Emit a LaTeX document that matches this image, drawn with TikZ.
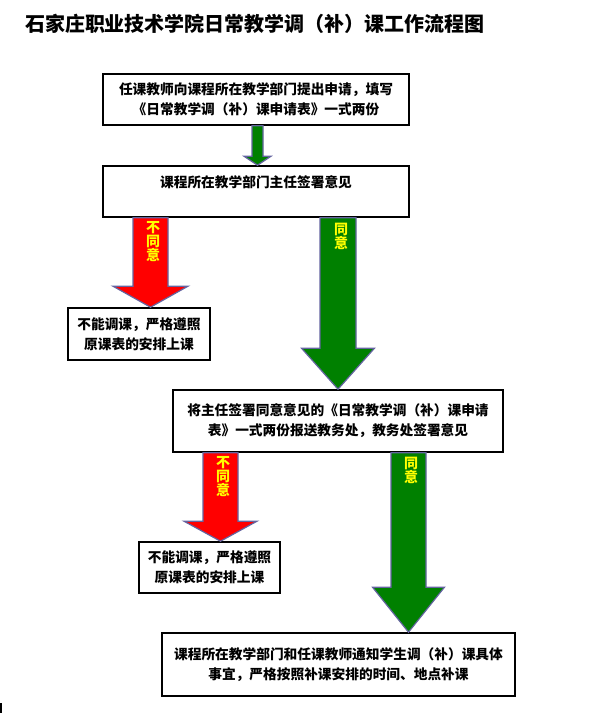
\documentclass[tikz,border=0pt]{standalone}
\usepackage{fontspec}
\newfontfamily\cjk{Noto Sans CJK SC}
\usetikzlibrary{calc}
\definecolor{arrowline}{RGB}{100,100,160}
\definecolor{agreegreen}{RGB}{0,128,0}
\definecolor{labelyellow}{RGB}{255,255,0}
% #1 style, #2 from node, #3 to node, #4 x centre, #5 shaft half width, #6 head half width, #7 head length
\newcommand\blockarrow[7]{%
  \draw[#1] let \p1=(#2.south), \p2=(#3.north) in
    (#4pt-#5pt,\y1) -- (#4pt+#5pt,\y1) -- (#4pt+#5pt,\y2+#7pt) -- (#4pt+#6pt,\y2+#7pt)
    -- (#4pt,\y2) -- (#4pt-#6pt,\y2+#7pt) -- (#4pt-#5pt,\y2+#7pt) -- cycle;
}
\begin{document}
\begin{tikzpicture}[x=1pt,y=-1pt,
  box/.style={draw=black, line width=1.6pt, fill=white, align=center, inner sep=0pt,
    font=\cjk\bfseries\fontsize{13.7}{20}\selectfont},
  yes/.style={fill=agreegreen, draw=arrowline, line width=1.2pt, line join=miter},
  no/.style={fill=red, draw=arrowline, line width=1.2pt, line join=miter},
  lab/.style={text=labelyellow, align=center, inner sep=0pt,
    font=\cjk\bfseries\fontsize{14}{14}\selectfont},
  titletext/.style={inner sep=0pt, font=\cjk\bfseries\fontsize{20}{22}\selectfont}]
\useasboundingbox (0,0) rectangle (590,713);
\fill[white] (0,0) rectangle (590,713);

\node[titletext] (title) at (255,24) {石家庄职业技术学院日常教学调（补）课工作流程图};

\node[box, minimum width=306pt, minimum height=51pt] (b1) at (256,99.5)
  {任课教师向课程所在教学部门提出申请，填写\\《日常教学调（补）课申请表》一式两份};
\node[box, minimum width=306pt, minimum height=51pt] (b2) at (256,191.5)
  {课程所在教学部门主任签署意见\\\mbox{}};
\node[box, minimum width=142pt, minimum height=52pt] (b3) at (139,334)
  {不能调课，严格遵照\\原课表的安排上课};
\node[box, minimum width=330pt, minimum height=62pt] (b4) at (338,421)
  {将主任签署同意意见的《日常教学调（补）课申请\\表》一式两份报送教务处，教务处签署意见};
\node[box, minimum width=141pt, minimum height=51pt] (b5) at (209.5,567.5)
  {不能调课，严格遵照\\原课表的安排上课};
\node[box, minimum width=353pt, minimum height=63pt] (b6) at (338.5,664.5)
  {课程所在教学部门和任课教师通知学生调（补）课具体\\事宜，严格按照补课安排的时间、地点补课};

\blockarrow{yes}{b1}{b2}{257.5}{5.5}{13.5}{9}
\blockarrow{no}{b2}{b3}{150.5}{17.5}{37.5}{21}
\blockarrow{yes}{b2}{b4}{338}{18}{36.5}{41}
\blockarrow{no}{b4}{b5}{220.5}{17.5}{36.5}{20}
\blockarrow{yes}{b4}{b6}{408.5}{17.5}{36}{45}

\node[lab] (l1) at (153,242) {不\\同\\意};
\node[lab] (l2) at (341,236) {同\\意};
\node[lab] (l3) at (223,477) {不\\同\\意};
\node[lab] (l4) at (411,470) {同\\意};

\fill[black] (0,703) rectangle (2,713);
\end{tikzpicture}
\end{document}
